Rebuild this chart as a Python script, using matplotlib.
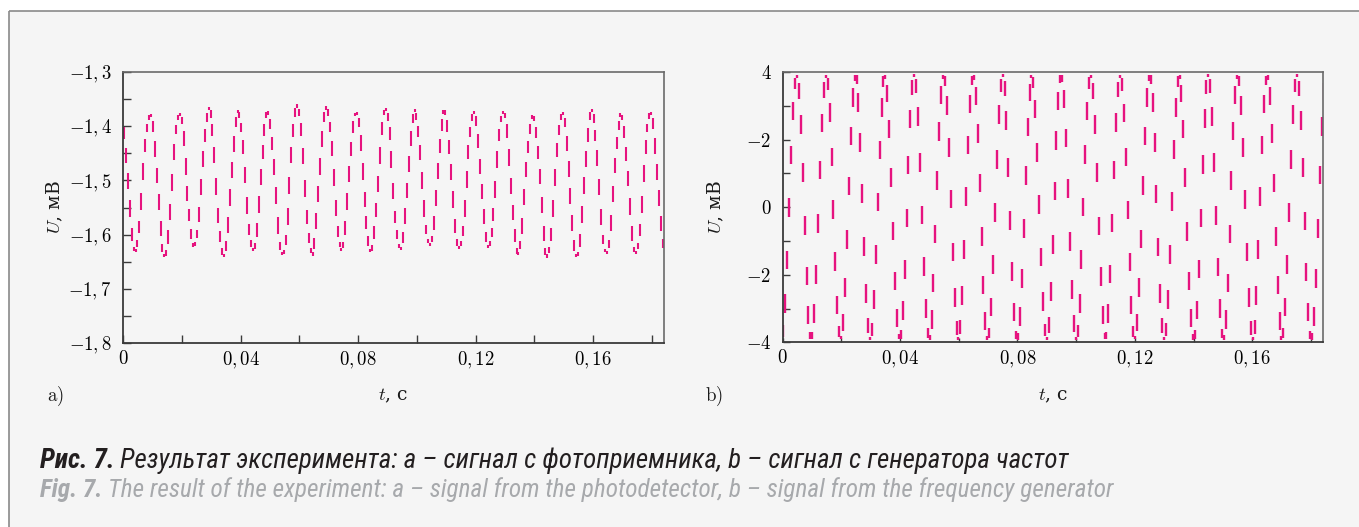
import numpy as np
import matplotlib
matplotlib.use("Agg")
import matplotlib.pyplot as plt
from matplotlib.patches import Rectangle
from matplotlib.lines import Line2D

# sample interval of both records, s
dt = 0.0006549

# a) photodetector signal, mV (one value per sample)
u_a = [
    -1.394, -1.432, -1.477, -1.526, -1.579, -1.620, -1.633, -1.627, -1.605, -1.568,
    -1.511, -1.456, -1.416, -1.391, -1.377, -1.384, -1.418, -1.467, -1.514, -1.565,
    -1.613, -1.636, -1.642, -1.626, -1.582, -1.533, -1.474, -1.421, -1.391, -1.377,
    -1.379, -1.400, -1.446, -1.502, -1.546, -1.583, -1.614, -1.624, -1.611, -1.586,
    -1.539, -1.485, -1.436, -1.398, -1.370, -1.366, -1.389, -1.425, -1.481, -1.541,
    -1.587, -1.620, -1.641, -1.637, -1.606, -1.557, -1.506, -1.457, -1.408, -1.376,
    -1.370, -1.388, -1.417, -1.461, -1.519, -1.574, -1.607, -1.626, -1.630, -1.613,
    -1.571, -1.518, -1.469, -1.426, -1.388, -1.371, -1.380, -1.412, -1.451, -1.499,
    -1.558, -1.608, -1.633, -1.638, -1.626, -1.594, -1.540, -1.479, -1.427, -1.388,
    -1.361, -1.364, -1.386, -1.425, -1.485, -1.546, -1.590, -1.621, -1.638, -1.634,
    -1.600, -1.550, -1.500, -1.449, -1.399, -1.368, -1.365, -1.385, -1.418, -1.465,
    -1.524, -1.578, -1.611, -1.627, -1.629, -1.610, -1.566, -1.512, -1.463, -1.420,
    -1.383, -1.373, -1.379, -1.406, -1.455, -1.513, -1.559, -1.597, -1.626, -1.634,
    -1.615, -1.576, -1.532, -1.482, -1.425, -1.383, -1.366, -1.372, -1.394, -1.433,
    -1.491, -1.548, -1.587, -1.614, -1.628, -1.622, -1.589, -1.542, -1.495, -1.446,
    -1.400, -1.372, -1.371, -1.393, -1.426, -1.472, -1.527, -1.577, -1.605, -1.618,
    -1.618, -1.599, -1.557, -1.507, -1.457, -1.416, -1.380, -1.367, -1.382, -1.417,
    -1.460, -1.509, -1.562, -1.605, -1.624, -1.624, -1.609, -1.577, -1.526, -1.470,
    -1.426, -1.395, -1.374, -1.376, -1.405, -1.450, -1.498, -1.543, -1.589, -1.619,
    -1.625, -1.609, -1.583, -1.544, -1.489, -1.434, -1.397, -1.377, -1.372, -1.388,
    -1.431, -1.485, -1.536, -1.582, -1.621, -1.640, -1.631, -1.608, -1.559, -1.502,
    -1.457, -1.420, -1.389, -1.378, -1.394, -1.429, -1.469, -1.516, -1.575, -1.621,
    -1.641, -1.638, -1.619, -1.581, -1.523, -1.465, -1.422, -1.392, -1.374, -1.378,
    -1.408, -1.455, -1.503, -1.554, -1.604, -1.636, -1.641, -1.630, -1.590, -1.535,
    -1.484, -1.437, -1.394, -1.369, -1.373, -1.400, -1.435, -1.483, -1.541, -1.594,
    -1.624, -1.635, -1.630, -1.604, -1.554, -1.496, -1.450, -1.413, -1.384, -1.375,
    -1.393, -1.430, -1.472, -1.521, -1.576, -1.620, -1.636, -1.631, -1.611, -1.573,
    -1.517, -1.459, -1.417, -1.390, -1.373, -1.379, -1.412, -1.460, -1.509, -1.556,
    -1.602, -1.630, -1.632,
]

# b) frequency generator signal, mV (one value per sample)
u_b = [
    -3.94, -3.40, -2.30, -0.82, 0.80, 2.29, 3.39, 3.93, 3.82, 3.07,
    1.81, 0.25, -1.35, -2.73, -3.65, -3.97, -3.63, -2.68, -1.29, 0.32,
    1.87, 3.11, 3.84, 3.92, 3.36, 2.23, 0.74, -0.88, -2.35, -3.44,
    -3.94, -3.80, -3.02, -1.74, -0.17, 1.43, 2.79, 3.69, 3.97, 3.59,
    2.62, 1.21, -0.40, -1.94, -3.17, -3.86, -3.91, -3.31, -2.16, -0.65,
    0.96, 2.42, 3.48, 3.95, 3.77, 2.96, 1.66, 0.09, -1.51, -2.85,
    -3.71, -3.96, -3.56, -2.56, -1.13, 0.48, 2.02, 3.21, 3.88, 3.90,
    3.27, 2.09, 0.57, -1.04, -2.48, -3.51, -3.96, -3.75, -2.91, -1.59,
    0.00, 1.58, 2.90, 3.74, 3.96, 3.52, 2.49, 1.05, -0.56, -2.09,
    -3.26, -3.89, -3.88, -3.22, -2.02, -0.49, 1.12, 2.55, 3.55, 3.96,
    3.72, 2.85, 1.51, -0.08, -1.66, -2.96, -3.77, -3.95, -3.48, -2.43,
    -0.97, 0.65, 2.16, 3.31, 3.91, 3.86, 3.17, 1.95, 0.41, -1.20,
    -2.61, -3.59, -3.97, -3.69, -2.79, -1.44, 0.16, 1.73, 3.01, 3.79,
    3.94, 3.44, 2.36, 0.89, -0.73, -2.23, -3.35, -3.92, -3.84, -3.12,
    -1.88, -0.33, 1.28, 2.67, 3.62, 3.97, 3.66, 2.74, 1.36, -0.24,
    -1.81, -3.07, -3.82, -3.93, -3.40, -2.29, -0.81, 0.81, 2.29, 3.40,
    3.93, 3.82, 3.07, 1.81, 0.25, -1.36, -2.73, -3.66, -3.97, -3.62,
    -2.68, -1.28, 0.33, 1.88, 3.12, 3.84, 3.92, 3.35, 2.23, 0.73,
    -0.89, -2.36, -3.44, -3.94, -3.80, -3.01, -1.73, -0.16, 1.43, 2.79,
    3.69, 3.97, 3.59, 2.61, 1.20, -0.41, -1.95, -3.17, -3.86, -3.91,
    -3.31, -2.16, -0.65, 0.97, 2.43, 3.48, 3.95, 3.77, 2.96, 1.66,
    0.08, -1.51, -2.85, -3.72, -3.96, -3.55, -2.55, -1.12, 0.49, 2.02,
    3.22, 3.88, 3.89, 3.26, 2.09, 0.57, -1.05, -2.49, -3.52, -3.96,
    -3.74, -2.90, -1.58, 0.00, 1.59, 2.91, 3.74, 3.96, 3.52, 2.49,
    1.04, -0.57, -2.09, -3.26, -3.90, -3.88, -3.21, -2.02, -0.49, 1.13,
    2.55, 3.56, 3.96, 3.72, 2.85, 1.51, -0.08, -1.66, -2.96, -3.77,
    -3.95, -3.48, -2.42, -0.97, 0.65, 2.16, 3.31, 3.91, 3.86, 3.17,
    1.95, 0.40, -1.21, -2.62, -3.59, -3.97, -3.69, -2.79, -1.43, 0.17,
    1.74, 3.02, 3.80,
]

x_ticks = [0, 0.04, 0.08, 0.12, 0.16]
x_ticklabels = ["$0$", "$0,04$", "$0,08$", "$0,12$", "$0,16$"]
x_minor = [0.02, 0.06, 0.10, 0.14, 0.18]

ya_ticks = [-1.8, -1.7, -1.6, -1.5, -1.4, -1.3]
ya_ticklabels = ["$-1,8$", "$-1,7$", "$-1,6$", "$-1,5$", "$-1,4$", "$-1,3$"]
ya_minor = [-1.75, -1.65, -1.55, -1.45, -1.35]

yb_ticks = [-4, -2, 0, 2, 4]
yb_ticklabels = ["$-4$", "$-2$", "$0$", "$-2$", "$4$"]
yb_minor = [-3, -1, 1, 3]

W, H = 1359, 527
PINK = "#e6137f"

plt.rcParams["mathtext.fontset"] = "cm"
plt.rcParams["font.family"] = ["DejaVu Serif"]

fig = plt.figure(figsize=(W / 100, H / 100), dpi=100, facecolor="white")

# light panel with a grey frame line on top and left
fig.patches.append(Rectangle((9 / W, 0), 1 - 9 / W, 1 - 11 / H, transform=fig.transFigure,
                             facecolor="#f5f5f5", edgecolor="none", zorder=-10))
fig.lines.append(Line2D([9 / W, 1], [1 - 11 / H, 1 - 11 / H], transform=fig.transFigure,
                        color="#8a8a8a", lw=1.2, solid_capstyle="butt"))
fig.lines.append(Line2D([9 / W, 9 / W], [0, 1 - 11 / H], transform=fig.transFigure,
                        color="#8a8a8a", lw=1.2, solid_capstyle="butt"))


def px_axes(x0, x1, y0, y1):
    return fig.add_axes([x0 / W, 1 - y1 / H, (x1 - x0) / W, (y1 - y0) / H])


def draw_dashes(ax, u, frac, lo, cap, lw):
    u = np.asarray(u)
    t = np.arange(len(u)) * dt
    xm = (t[:-1] + t[1:]) / 2
    ym = (u[:-1] + u[1:]) / 2
    h = np.clip(frac * np.abs(np.diff(u)), lo, cap) / 2
    ax.vlines(xm, ym - h, ym + h, colors=PINK, lw=lw, capstyle="butt")


def style(ax, yt, ytl, ymin, xlen, ylen):
    ax.set_facecolor("#f5f5f5")
    ax.set_xlim(0, 0.1842)
    ax.set_xticks(x_ticks)
    ax.set_xticklabels(x_ticklabels)
    ax.set_xticks(x_minor, minor=True)
    ax.set_yticks(yt)
    ax.set_yticklabels(ytl)
    ax.set_yticks(ymin, minor=True)
    for s in ["left", "bottom"]:
        ax.spines[s].set_color("#3a3a3a")
        ax.spines[s].set_linewidth(1.3)
    for s in ["top", "right"]:
        ax.spines[s].set_color("#6a6a6a")
        ax.spines[s].set_linewidth(1.2)
    ax.tick_params(axis="x", which="both", direction="in", length=xlen, width=1,
                   color="#3a3a3a", labelsize=13.5, pad=5)
    ax.tick_params(axis="y", which="both", direction="in", length=ylen, width=1,
                   color="#3a3a3a", labelsize=13.5, pad=8)
    ax.tick_params(top=False, right=False)


# panel a
ax1 = px_axes(123, 664.3, 72, 343)
draw_dashes(ax1, u_a, 0.6, 0.006, 0.031, 1.5)
ax1.set_ylim(-1.8, -1.3)
style(ax1, ya_ticks, ya_ticklabels, ya_minor, 6, 6)

# panel b
ax2 = px_axes(782.5, 1323.3, 72, 342.3)
draw_dashes(ax2, u_b, 0.65, 0.09, 0.55, 1.7)
ax2.set_ylim(-4, 4)
style(ax2, yb_ticks, yb_ticklabels, yb_minor, 3, 5)


def ftext(x, y, s, **kw):
    return fig.text(x / W, 1 - y / H, s, **kw)


lab = dict(fontsize=13.5, color="#1a1a1a", va="center")
ftext(47, 396, r"$\mathrm{a)}$", ha="left", **lab)
ftext(393, 396, "$t$, с", ha="center", **lab)
ftext(705, 396, r"$\mathrm{b)}$", ha="left", **lab)
ftext(1053, 396, "$t$, с", ha="center", **lab)
ftext(55, 207, "$U$, мВ", ha="center", rotation=90, **lab)
ftext(716, 207, "$U$, мВ", ha="center", rotation=90, **lab)

# caption: bold lead-in + italic text, sized to the reference line widths
renderer = fig.canvas.get_renderer()
cap_font = ["Roboto Condensed", "Roboto", "DejaVu Sans"]


def caption_parts(y, lead, rest, color, size):
    t1 = ftext(40, y, lead, fontsize=size, fontweight="bold", style="italic",
               family=cap_font, color=color, va="center", ha="left")
    w1 = t1.get_window_extent(renderer).width
    t2 = ftext(40 + w1 + 5, y, rest, fontsize=size, style="italic",
               family=cap_font, color=color, va="center", ha="left")
    total = t2.get_window_extent(renderer).x1 - t1.get_window_extent(renderer).x0
    return t1, t2, total


def caption(y, lead, rest, color, target):
    size = 16.0
    for _ in range(4):
        t1, t2, total = caption_parts(y, lead, rest, color, size)
        t1.remove()
        t2.remove()
        size *= target / total
    caption_parts(y, lead, rest, color, size)


caption(461, "Рис. 7.", "Результат эксперимента: a – сигнал с фотоприемника, b – сигнал с генератора частот",
        "#231f20", 1028)
caption(490, "Fig. 7.", "The result of the experiment: a – signal from the photodetector, b – signal from the frequency generator",
        "#a7a9ac", 1070)

fig.savefig("out.png", dpi=100, facecolor=fig.get_facecolor())
